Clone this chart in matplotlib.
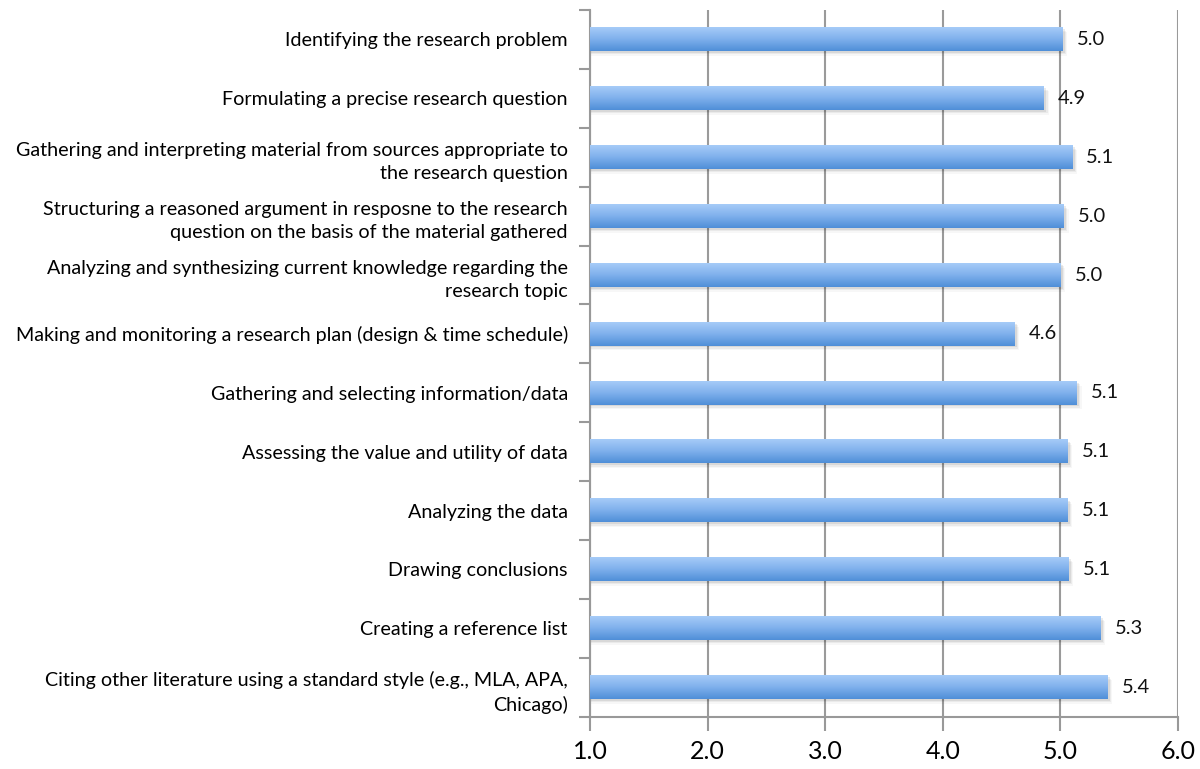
import numpy as np
import matplotlib.pyplot as plt
from matplotlib.colors import LinearSegmentedColormap
from matplotlib.patches import Rectangle
from matplotlib.ticker import FixedLocator

plt.rcParams['font.family'] = ['Lato', 'DejaVu Sans']

skills = [
    "Identifying the research problem",
    "Formulating a precise research question",
    "Gathering and interpreting material from sources appropriate to\nthe research question",
    "Structuring a reasoned argument in resposne to the research\nquestion on the basis of the material gathered",
    "Analyzing and synthesizing current knowledge regarding the\nresearch topic",
    "Making and monitoring a research plan (design & time schedule)",
    "Gathering and selecting information/data",
    "Assessing the value and utility of data",
    "Analyzing the data",
    "Drawing conclusions",
    "Creating a reference list",
    "Citing other literature using a standard style (e.g., MLA, APA,\nChicago)",
]
scores = [5.02, 4.86, 5.10, 5.03, 5.00, 4.61, 5.14, 5.06, 5.06, 5.07, 5.34, 5.40]
x_ticks = [1.0, 2.0, 3.0, 4.0, 5.0, 6.0]

fig = plt.figure(figsize=(12, 7.69), dpi=100)
ax = fig.add_axes([0.4917, 0.068, 0.4900, 0.919])

n = len(skills)
ypos = np.arange(n)[::-1]
bar_h = 0.40
base = 1.0

grad = LinearSegmentedColormap.from_list("barblue", ["#4f8fd8", "#7fb0ec", "#a6cbf8"])
gradient = np.linspace(0, 1, 64).reshape(-1, 1)

for y, v in zip(ypos, scores):
    # soft drop shadow under each bar
    for k, a in enumerate([0.08, 0.05, 0.03]):
        off = 0.03 + k * 0.025
        ax.add_patch(Rectangle((base + 0.01, y - bar_h / 2 - off), v - base + 0.01 * (k + 1),
                               bar_h, facecolor="#000000", alpha=a, lw=0, zorder=2))
    ax.imshow(gradient, cmap=grad, origin="lower", aspect="auto",
              extent=(base, v, y - bar_h / 2, y + bar_h / 2), zorder=3)
    ax.text(v + 0.12, y, f"{v:.1f}", va="center", ha="left", fontsize=14.5,
            color="#111111", zorder=4)

ax.set_xlim(1.0, 6.0)
ax.set_ylim(-0.5, n - 0.5)

ax.set_xticks(x_ticks)
ax.set_xticklabels([f"{t:.1f}" for t in x_ticks], fontsize=18)
ax.tick_params(axis="x", length=10, width=1.5, color="#999999", pad=7, direction="out")

ax.set_yticks(ypos)
ax.set_yticklabels(skills, fontsize=14.2, linespacing=1.45)
ax.tick_params(axis="y", which="major", length=0, pad=16)
ax.yaxis.set_minor_locator(FixedLocator(np.arange(-0.5, n, 1.0)))
ax.tick_params(axis="y", which="minor", length=8, width=1.5, color="#999999", direction="out")

ax.grid(axis="x", color="#9a9a9a", linewidth=1.5, zorder=1)
ax.set_axisbelow(True)

ax.spines["top"].set_visible(False)
ax.spines["right"].set_visible(False)
for side in ["left", "bottom"]:
    ax.spines[side].set_color("#999999")
    ax.spines[side].set_linewidth(1.5)

fig.savefig("out.png", dpi=100)
